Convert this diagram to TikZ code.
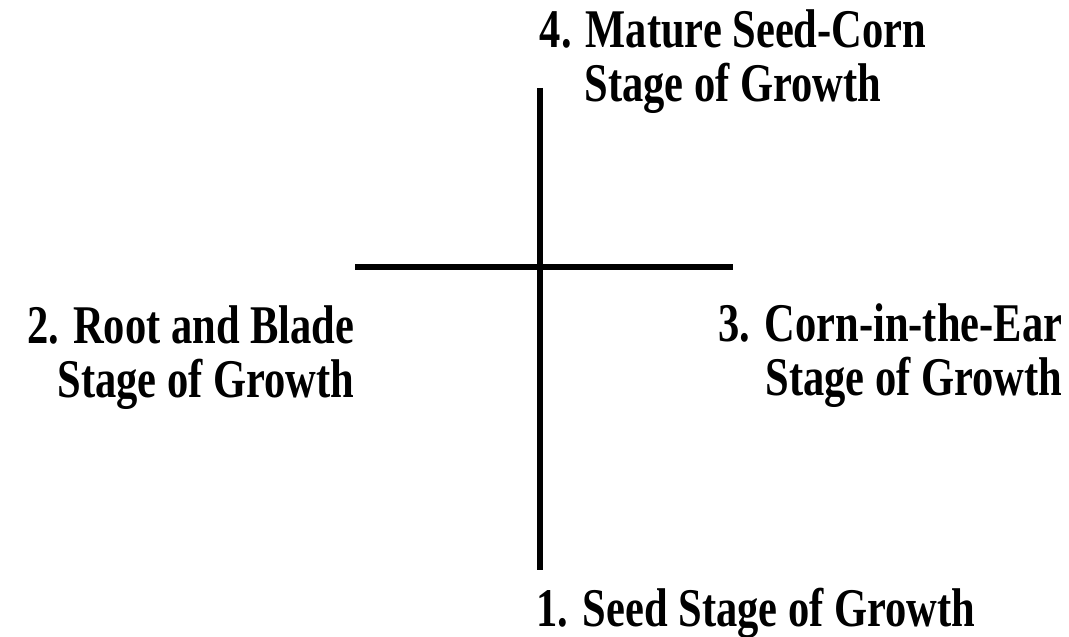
\documentclass[tikz,border=0pt]{standalone}
\usepackage{fontspec}
\setmainfont[FakeStretch=0.78]{Liberation Serif}
\begin{document}
\begin{tikzpicture}[x=0.01cm,y=-0.01cm,
    stagelabel/.style={inner sep=0pt,font=\fontsize{15.5}{15.4}\selectfont\bfseries},
    axisline/.style={line width=1.7pt}]
    \useasboundingbox (0,0) rectangle (1069,637);
    % cross
    \coordinate (top) at (540,88);
    \coordinate (bottom) at (540,570);
    \coordinate (left) at (355,267);
    \coordinate (right) at (733,267);
    \draw[axisline] (top) -- (bottom);
    \draw[axisline] (left) -- (right);
    % stages (base = last line)
    \node[stagelabel,align=center,anchor=base] (mature) at (733,102) {4. Mature Seed-Corn\\Stage of Growth};
    \node[stagelabel,align=right,anchor=base east] (root) at (355,398) {2. Root and Blade\\Stage of Growth};
    \node[stagelabel,align=right,anchor=base east] (ear) at (1063,396) {3. Corn-in-the-Ear\\Stage of Growth};
    \node[stagelabel,anchor=base west] (seed) at (536,627) {1. Seed Stage of Growth};
\end{tikzpicture}
\end{document}
